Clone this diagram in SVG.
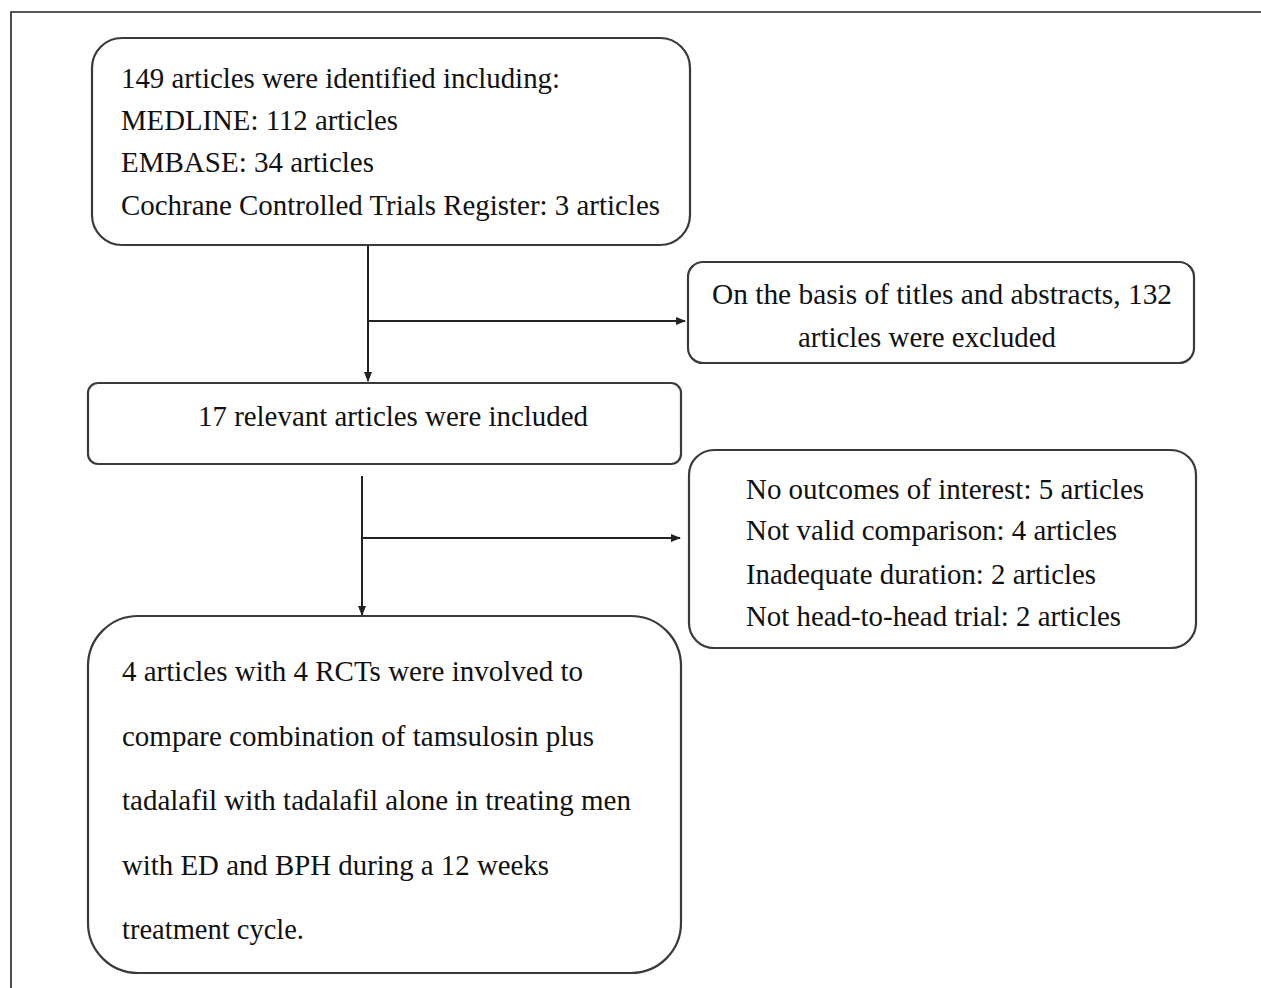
<svg xmlns="http://www.w3.org/2000/svg" width="1261" height="988" viewBox="0 0 1261 988">
<defs>
<marker id="arr" markerWidth="10" markerHeight="8" refX="9" refY="4" orient="auto" markerUnits="userSpaceOnUse">
<path d="M0,0 L10,4 L0,8 Z" fill="#222"/>
</marker>
<style>
.box{fill:#fff;stroke:#3a3a3a;stroke-width:2.2}
.t{font-family:"Liberation Serif","Times New Roman",serif;font-size:29px;fill:#111}
.c{fill:none;stroke:#222;stroke-width:2}
.frame{fill:none;stroke:#222;stroke-width:1.6}
</style>
</defs>
<rect width="1261" height="988" fill="#fff"/>
<path class="frame" d="M11,988 L11,12 L1261,12"/>
<g id="connectors">
<path class="c" d="M368,246 L368,381" marker-end="url(#arr)"/>
<path class="c" d="M368,321 L685,321" marker-end="url(#arr)"/>
<path class="c" d="M362,476 L362,615" marker-end="url(#arr)"/>
<path class="c" d="M362,538 L680,538" marker-end="url(#arr)"/>
</g>
<g id="identified">
<rect class="box" x="92" y="38" width="598" height="207" rx="30"/>
<text class="t" x="121" y="88" textLength="439" lengthAdjust="spacingAndGlyphs">149 articles were identified including:</text>
<text class="t" x="121" y="130" textLength="277" lengthAdjust="spacingAndGlyphs">MEDLINE: 112 articles</text>
<text class="t" x="121" y="172" textLength="253" lengthAdjust="spacingAndGlyphs">EMBASE: 34 articles</text>
<text class="t" x="121" y="215" textLength="539" lengthAdjust="spacingAndGlyphs">Cochrane Controlled Trials Register: 3 articles</text>
</g>
<g id="excluded1">
<rect class="box" x="688" y="262" width="506" height="101" rx="15"/>
<text class="t" x="712" y="304" textLength="460" lengthAdjust="spacingAndGlyphs">On the basis of titles and abstracts, 132</text>
<text class="t" x="798" y="347" textLength="258" lengthAdjust="spacingAndGlyphs">articles were excluded</text>
</g>
<g id="included">
<rect class="box" x="88" y="383" width="593" height="81" rx="10"/>
<text class="t" x="198" y="426" textLength="390" lengthAdjust="spacingAndGlyphs">17 relevant articles were included</text>
</g>
<g id="excluded2">
<rect class="box" x="689" y="450" width="507" height="198" rx="25"/>
<text class="t" x="746" y="499" textLength="398" lengthAdjust="spacingAndGlyphs">No outcomes of interest: 5 articles</text>
<text class="t" x="746" y="540" textLength="371" lengthAdjust="spacingAndGlyphs">Not valid comparison: 4 articles</text>
<text class="t" x="746" y="584" textLength="350" lengthAdjust="spacingAndGlyphs">Inadequate duration: 2 articles</text>
<text class="t" x="746" y="626" textLength="375" lengthAdjust="spacingAndGlyphs">Not head-to-head trial: 2 articles</text>
</g>
<g id="final">
<rect class="box" x="88" y="616" width="593" height="357" rx="50"/>
<text class="t" x="122" y="681" textLength="461" lengthAdjust="spacingAndGlyphs">4 articles with 4 RCTs were involved to</text>
<text class="t" x="122" y="746" textLength="472" lengthAdjust="spacingAndGlyphs">compare combination of tamsulosin plus</text>
<text class="t" x="122" y="810" textLength="509" lengthAdjust="spacingAndGlyphs">tadalafil with tadalafil alone in treating men</text>
<text class="t" x="122" y="875" textLength="427" lengthAdjust="spacingAndGlyphs">with ED and BPH during a 12 weeks</text>
<text class="t" x="122" y="939" textLength="182" lengthAdjust="spacingAndGlyphs">treatment cycle.</text>
</g>
</svg>
